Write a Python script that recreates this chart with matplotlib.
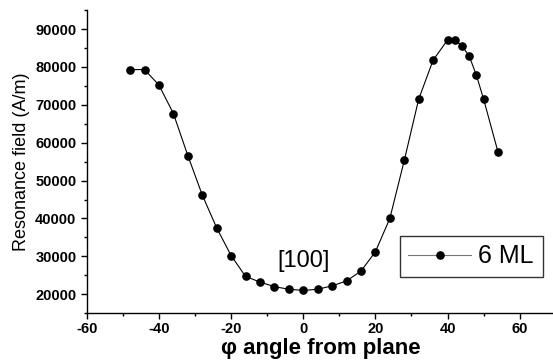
import matplotlib
matplotlib.use("Agg")
import matplotlib.pyplot as plt
from matplotlib.ticker import MultipleLocator

plt.rcParams['font.family'] = ['Liberation Sans', 'DejaVu Sans']
plt.rcParams['axes.unicode_minus'] = False

# angle (deg) and resonance field (A/m), 6 ML sample
angle = [-48, -44, -40, -36, -32, -28, -24, -20, -16, -12, -8, -4, 0, 4, 8,
         12, 16, 20, 24, 28, 32, 36, 40, 42, 44, 46, 48, 50, 54]
field = [79300, 79300, 75200, 67700, 56600, 46200, 37500, 30200, 24700,
         23200, 22000, 21300, 21000, 21300, 22200, 23500, 26100, 31200,
         40000, 55300, 71500, 81800, 87100, 87100, 85500, 82900, 77800,
         71500, 57500]
series_label = "6 ML"
annotation = "[100]"

fig = plt.figure(figsize=(5.53, 3.62), dpi=100)
ax = fig.add_axes([0.157, 0.135, 0.848, 0.837])

ax.plot(angle, field, color='black', lw=0.8, marker='o', ms=5.2,
        mfc='black', mec='black', label=series_label)

ax.set_xlim(-60, 70)
ax.set_ylim(15000, 95000)
ax.xaxis.set_major_locator(MultipleLocator(20))
ax.xaxis.set_minor_locator(MultipleLocator(10))
ax.yaxis.set_major_locator(MultipleLocator(10000))
ax.yaxis.set_minor_locator(MultipleLocator(5000))
ax.tick_params(which='major', direction='out', length=4, width=1, labelsize=10.5)
ax.tick_params(axis='x', which='major', pad=2.5)
ax.tick_params(which='minor', direction='out', length=2.5, width=1)
for lab in ax.get_xticklabels() + ax.get_yticklabels():
    lab.set_fontweight('bold')

ax.spines['top'].set_visible(False)
ax.spines['right'].set_visible(False)
ax.spines['left'].set_linewidth(1)
ax.spines['bottom'].set_linewidth(1)

ax.set_xlabel("\u03c6 angle from plane", fontsize=16, fontweight='bold', labelpad=1)
ax.set_ylabel("Resonance field (A/m)", fontsize=13, labelpad=4)

ax.text(0, 28700, annotation, fontsize=17, ha='center', va='center')

leg = ax.legend(loc='lower right', bbox_to_anchor=(0.972, 0.119), fontsize=18,
                frameon=True, fancybox=False, handlelength=2.5,
                borderpad=0.35, handletextpad=0.3, borderaxespad=0)
leg.get_frame().set_edgecolor('black')
leg.get_frame().set_linewidth(1)
leg.get_lines()[0].set_color('#777777')
leg.get_lines()[0].set_markerfacecolor('black')
leg.get_lines()[0].set_markeredgecolor('black')

fig.savefig("out.png", dpi=100)
